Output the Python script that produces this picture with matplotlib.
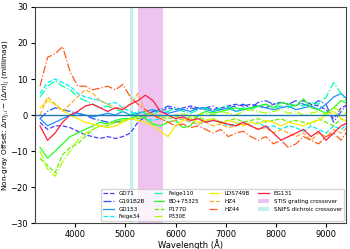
import numpy as np
import matplotlib
matplotlib.use("Agg")
import matplotlib.pyplot as plt

# wavelength grid [Angstrom]
wave = [3300, 3450, 3600, 3750, 3900, 4050, 4200, 4350, 4500, 4650, 4800,
        4950, 5100, 5250, 5400, 5550, 5700, 5850, 6000, 6150, 6300, 6450,
        6600, 6750, 6900, 7050, 7200, 7350, 7500, 7650, 7800, 7950, 8100,
        8250, 8400, 8550, 8700, 8850, 9000, 9150, 9300, 9450]

stars = ["GD71", "G191B2B", "GD153", "Feige34", "Feige110", "BD+75325",
         "P177D", "P330E", "LDS749B", "HZ4", "HZ44", "EG131"]

# non-gray offsets [millimag]
gd71 = [-2, -4, -3, -3, -3.5, -4.5, -5.5, -6, -6.5, -6, -6.5, -6, -5, -2, -0.5, 1, 1, 2, 1.5, 2, 2.5,
        2, 2, 1.5, 2, 2.5, 3, 2.5, 3, 2.5, 2, 3, 3.5, 3, 2.5, 4, 3, 2.5, 1.5, -1, 2, 3]
g191b2b = [-1, 1, 2, 1.5, 1, 0.5, 0, -1, -1.5, -2, -2, -1.5, -1, -0.5, 0, 1, 1.5, 2.5, 2, 1.5, 2,
           1.5, 2, 2.5, 1.5, 2, 2.5, 3, 2, 3.5, 4, 3, 3.5, 3, 4, 3, 2.5, 4, 3, -2, 1, 3]
gd153 = [-1, -3, -2, -1, 0, 0.5, 0, -0.5, 0, 0.5, 0, 1, 0, 0.5, 1, 1.5, 1, 0.5, 1, 1.5, 1,
         2, 1.5, 1, 1.5, 2, 1, 1.5, 2, 2.5, 2, 1.5, 2, 2.5, 1.5, 2, 2.5, 1.5, 3, 5, 6, 4]
feige34 = [6, 9, 10, 9, 8, 6, 5, 4.5, 4, 3, 3.5, 2, 1, 0, -1, -1.5, -1, -2, -1.5, -1, -2,
           -2.5, -2, -1, -2, -3, -2.5, -2, -3, -2, -3.5, -3, -4, -3, -3.5, -4.5, -3, -4, -5, -3, -4, -2]
feige110 = [5, 8, 9.5, 8, 7, 5, 4, 3, 2, 2.5, 1.5, 1, 0, 1, 0.5, 0, 1.5, 1, 2, 1, 0.5,
            1.5, 2, 1, 2, 2.5, 1, 2, 1.5, 2.5, 3, 2, 2.5, 2, 3, 2.5, 3.5, 3, 5, 9, 6, 3]
bd75325 = [-9, -12, -10, -8, -6, -5, -4, -3, -2, -2.5, -1.5, -1, -1, 0, -1, -2.5, -3, -2, -1.5, -3.5, -3,
           0, 1, 0.5, 1, 1.5, 2, 1.5, 2, 2.5, 3, 2, 3.5, 3, 2.5, 4.5, 2, 1.5, 0.5, 2, 4, 3]
p177d = [-12, -14, -16, -11, -9, -8, -6, -4, -3, -3, -2, -2, -1, -1, -0.5, 0, -0.5, -1, -0.5, 0, -1,
         -0.5, -1.5, -1, -2, -1.5, -1, -2, -1.5, -1, -2, -1.5, -1, -2, -1.5, -2, -2.5, -1, -2, -3, -1, -2]
p330e = [-10, -15, -17, -13, -10, -7, -5, -4, -3, -2.5, -2, -1.5, -1, -0.5, 0, 0.5, 0, -0.5, 0, 0.5, -0.5,
         0, 0.5, 0, 1, 0.5, 0, 1, 1.5, 1, 0.5, 1, 1.5, 0.5, 1, 0, 0.5, 1, 0, 2, 1, 0]
lds749b = [2, 4, 3, 1.5, 0, -1, -2, -2.5, -3, -3.5, -3, -2, -1, -1.5, -2, -3, -4.5, -6, -3, -1.5, -1,
           -2, -1.5, -1, -2.5, -1.5, -2, -3, -2, -2.5, -1.5, -2, -3, -2, -2.5, -3, -2, -1.5, 0, 1, -1, -2]
hz4 = [0, 5, 3, 1, 3, 5, 7, 6, 4, 3, 2, 2, 3, 6, 1, 0, -1, -2, -1.5, -1, -2,
       -2.5, -2, -3, -2.5, -3.5, -3, -2.5, -3, -4, -3.5, -5, -4, -5, -6, -5, -7, -5, -6, -4, -5, -3]
hz44 = [8, 16, 17, 19, 12, 8, 8, 7, 7.5, 8, 7, 8.5, 5, 3, 1.5, 0, -1, -2, -3, -2.5, -3.5,
        -3, -4, -5, -4, -6, -5, -4.5, -6, -7, -6, -8, -7, -9, -8, -6, -7, -8, -6, -5, -7, -4]
eg131 = [-3, -7, -5, -2, 0, 1, 2.5, 3, 2, 1, 2, 1.5, 3, 4, 5.5, 4, 1, 0, -1, -0.5, -1.5,
         -1, -2, -1.5, -2, -2.5, -3, -2, -3, -4, -3, -5, -7, -6, -5, -4, -6, -4.5, -7, -5, -3, -2]

offsets = [gd71, g191b2b, gd153, feige34, feige110, bd75325,
           p177d, p330e, lds749b, hz4, hz44, eg131]

colors = ["#4a3cff", "#2a55ff", "#1e90ff", "#00eeff", "#00ffa0", "#22ff22",
          "#66f000", "#aaff00", "#f5ee00", "#ffaa30", "#ff5a1a", "#ff1a40"]
styles = ["--", "-.", "-"] * 4

stis_cross = (5250, 5750)
snifs_cross = (5100, 5150)

fig, ax = plt.subplots(figsize=(3.5, 2.49), dpi=100)
fig.subplots_adjust(left=0.1, right=0.989, top=0.972, bottom=0.104)

for name, y, c, ls in zip(stars, offsets, colors, styles):
    ax.plot(wave, y, color=c, ls=ls, lw=0.9, label=name)

ax.axhline(0, color="#1f77b4", lw=1)
ax.axvspan(*stis_cross, color="#ebb5eb", alpha=0.8, lw=0, zorder=0,
           label="STIS grating crossover")
ax.axvspan(*snifs_cross, color="#bdeeee", alpha=0.9, lw=0, zorder=0,
           label="SNIFS dichroic crossover")

ax.set_xlim(3200, 9400)
ax.set_ylim(-30, 30)
ax.set_yticks([-30, -20, -10, 0, 10, 20, 30])
ax.tick_params(labelsize=6, length=3, pad=2)
ax.set_xlabel("Wavelength (Å)", fontsize=6)
ax.xaxis.set_label_coords(0.5, -0.072)
ax.set_ylabel(r"Non-gray Offset: $\Delta m_{j,i} - \langle\Delta m\rangle_j$ (millimag)",
              fontsize=5.3)
ax.yaxis.set_label_coords(-0.075, 0.5)
for s in ax.spines.values():
    s.set_color("#444444")

ax.legend(loc="lower right", ncol=4, fontsize=4.1, handlelength=1.9,
          columnspacing=1.6, labelspacing=0.45, borderaxespad=0.3,
          framealpha=0.8)

fig.savefig("out.png", dpi=100)
